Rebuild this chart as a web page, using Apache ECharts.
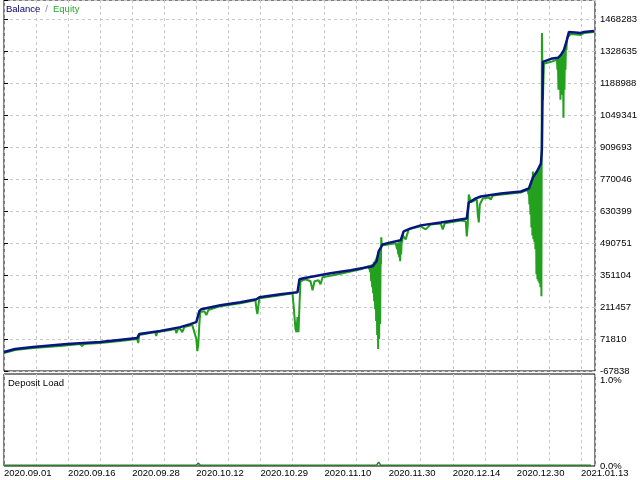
<!DOCTYPE html>
<html><head><meta charset="utf-8">
<script src="https://cdn.jsdelivr.net/npm/echarts@6/dist/echarts.min.js"></script>
<style>html,body{margin:0;padding:0;background:#fff}#c{width:640px;height:480px}</style>
</head><body><div id="c"></div>
<script>
const dateLabels = ['2020.09.01','2020.09.16','2020.09.28','2020.10.12','2020.10.29','2020.11.10','2020.11.30','2020.12.14','2020.12.30','2021.01.13'];
const yTickLabels = ['-67838','71810','211457','351104','490751','630399','770046','909693','1049341','1188988','1328635','1468283'];
const loadTickLabels = ['0.0%','1.0%'];

const balanceX = [0,11,29,63,96,133,135,156,176,186,192,195,197,216,236,252,255,276,293,295,299,326,346,368,372,374,378,386,396,399,406,416,436,462,464,471,476,496,516,524,528,532,536,537,538,546,553,556,559,562,564,576,579,589];
const balanceY = [15000,28000,36700,49800,58500,75900,93400,106500,123900,137000,145700,193600,202300,219700,232800,245900,254600,267700,276400,333000,337400,359200,372300,389700,411500,455000,485500,494200,503000,542200,555300,568400,581400,598800,668500,686000,694700,707800,716400,729500,777500,803600,838400,899500,1282900,1296000,1300300,1313400,1335200,1378800,1413600,1409200,1413600,1418000];

const equityX = [0,11,29,56,76,78,80,96,116,133,134,135,151,152,153,166,171,172,174,176,178,180,188,190,192,193,194,195,196,200,202,204,216,236,251,252,253,254,255,276,288,289,291,292,293,294,295,296,301,306,308,310,314,316,318,336,356,
  364,364.5,365,365.5,366,366.5,367,367.5,368,368.5,369,369.5,370,370.5,371,371.5,372,372.5,373,373.5,374,374.5,375,375.5,376,376.3,376.6,377,
  379,391,392,392.5,393,393.5,394,394.5,395,395.5,396,396.5,397,397.5,398,399,401,404,416,421,426,436,438,440,456,461,462,463,464,466,472,473,474,475,478,484,486,488,506,516,
  523,523.5,524,524.5,525,525.5,526,526.5,527,527.5,528,528.5,529,529.5,530,530.5,531,531.5,532,532.5,533,533.5,534,534.5,535,535.5,536,536.5,
  537,538,539,546,552,552.5,553,553.5,554,554.5,555,555.5,556,556.5,557,557.5,558,558.5,559,559.5,560,560.5,561,561.5,562,563,566,576,579,589];
const equityY = [10600,23700,32400,41100,49800,41100,49800,54200,62900,71600,54200,89000,102100,84700,102100,110800,115200,97700,119600,115200,102100,123900,132600,102100,71600,19300,49800,137000,189300,193600,176200,198000,215400,228500,241500,202300,180600,219700,250300,263300,272000,224100,115200,102100,167500,102100,224100,324300,333000,324300,285100,324300,328700,311300,341700,357000,376600,
  389700,376600,394100,363700,394100,324300,398400,298200,398400,272000,407100,237200,411500,202300,420200,150100,428900,89000,437600,28000,446300,71600,450700,137000,455000,398400,516000,489900,
  481200,489900,481200,463800,489900,442000,494200,428900,494200,411500,498600,442000,507300,494200,524700,524700,507300,550900,564000,550900,572700,577100,550900,577100,590100,585800,520400,572700,703400,668500,681600,616200,581400,659800,686000,690300,681600,699100,707800,712100,
  725200,703400,725200,659800,733900,616200,742600,559600,755700,524700,803600,507300,777500,494200,786200,463800,799300,355000,807900,333000,812700,324300,821000,315600,829700,298200,838400,259000,
  1409200,1117300,1274200,1282900,1291600,1248000,1296000,1160900,1300300,1182700,1304700,1117300,1309000,1169600,1313400,1139200,1322100,1038900,1330800,1160900,1343900,1248000,1361300,1335200,1387500,1396200,1404900,1400500,1409200,1413600];

const loadX = [0,192,194,196,372,374,376,586];
const loadY = [0.01,0.01,0.035,0.01,0.01,0.045,0.01,0.01];

const yMin = -67838, yStep = 139647.36, yMax = 1553040;
const xMax = 590;

const zip = (a, b) => a.map((v, i) => [v, b[i]]);
const gridColor = '#c8c8c8';
const font = 'Liberation Sans';

const chart = echarts.init(document.getElementById('c'), null, {renderer: 'canvas'});
chart.setOption({
  animation: false,
  backgroundColor: '#fff',
  title: [
    {left: 6, top: 0, padding: 0, text: '{b|Balance} {s|/} {e|Equity}', textStyle: {rich: {
      b: {color: '#00006e', fontSize: 9.5, fontWeight: 'normal', fontFamily: font},
      s: {color: '#888', fontSize: 9.5, fontWeight: 'normal', fontFamily: font},
      e: {color: '#2aa82a', fontSize: 9.5, fontWeight: 'normal', fontFamily: font}}}},
    {left: 8, top: 378, padding: 0, text: 'Deposit Load', textStyle: {color: '#000', fontSize: 9.5, fontWeight: 'normal', fontFamily: font}}
  ],
  grid: [
    {left: 4, right: 45, top: -1, height: 372, show: true, borderColor: '#000', borderWidth: 1},
    {left: 4, right: 45, top: 374, bottom: 14, show: true, borderColor: '#000', borderWidth: 1}
  ],
  xAxis: [
    {gridIndex: 0, type: 'value', min: 0, max: xMax, interval: 32,
     axisLine: {show: false}, axisTick: {show: false}, axisLabel: {show: false},
     splitLine: {show: true, lineStyle: {color: gridColor, type: [3, 3]}}},
    {gridIndex: 1, type: 'value', min: 0, max: xMax, interval: 32,
     axisLine: {show: false}, axisTick: {show: false},
     axisLabel: {show: true, align: 'left', margin: 2, color: '#000', fontSize: 9.5, fontFamily: font,
       showMaxLabel: false,
       formatter: v => (v % 64 === 0 ? (dateLabels[v / 64] || '') : '')},
     splitLine: {show: true, lineStyle: {color: gridColor, type: [3, 3]}}}
  ],
  yAxis: [
    {gridIndex: 0, type: 'value', position: 'right', min: yMin, max: yMax, interval: yStep,
     axisLine: {show: false}, axisTick: {show: true, length: 4, lineStyle: {color: '#000'}},
     axisLabel: {margin: 5, color: '#000', fontSize: 9.5, fontFamily: font,
       formatter: v => { const i = Math.round((v - yMin) / yStep); return Math.abs(v - (yMin + i * yStep)) < 2 ? (yTickLabels[i] || '') : ''; }},
     splitLine: {show: true, lineStyle: {color: gridColor, type: [3, 3]}}},
    {gridIndex: 1, type: 'value', position: 'right', min: 0, max: 1.08, interval: 1,
     axisLine: {show: false}, axisTick: {show: false},
     axisLabel: {margin: 5, color: '#000', fontSize: 9.5, fontFamily: font,
       formatter: v => (v === 0 ? loadTickLabels[0] : (v === 1 ? loadTickLabels[1] : ''))},
     splitLine: {show: false}}
  ],
  series: [
    {name: 'Equity', type: 'line', xAxisIndex: 0, yAxisIndex: 0, data: zip(equityX, equityY),
     showSymbol: false, lineStyle: {color: '#22a01e', width: 2}, z: 2},
    {name: 'Balance', type: 'line', xAxisIndex: 0, yAxisIndex: 0, data: zip(balanceX, balanceY),
     showSymbol: false, lineStyle: {color: '#08157c', width: 2.5}, z: 3},
    {name: 'Deposit Load', type: 'line', xAxisIndex: 1, yAxisIndex: 1, data: zip(loadX, loadY),
     showSymbol: false, lineStyle: {color: '#2e7d2e', width: 1.5}, z: 3}
  ]
});
</script></body></html>
